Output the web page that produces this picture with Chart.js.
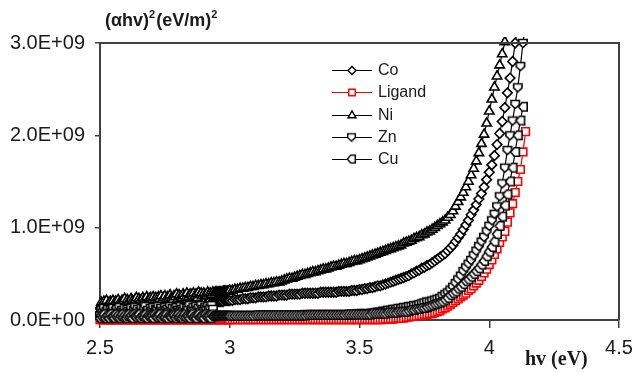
<!DOCTYPE html>
<html>
<head>
<meta charset="utf-8">
<script src="https://cdn.jsdelivr.net/npm/chart.js@4.4.1/dist/chart.umd.min.js"></script>
<style>
html,body{margin:0;padding:0;background:#fff;}
#wrap{width:635px;height:372px;position:relative;}
</style>
</head>
<body>
<div id="wrap"><canvas id="c" width="635" height="372"></canvas></div>
<script>
// ---- data (y values in units of 1E+09 (eV/m)^2) ----
const energies = [
2.500,2.505,2.510,2.515,2.520,2.525,2.530,2.535,2.540,2.545,
2.550,2.555,2.560,2.565,2.570,2.575,2.580,2.585,2.590,2.595,
2.600,2.605,2.610,2.615,2.620,2.625,2.630,2.635,2.640,2.645,
2.650,2.655,2.660,2.665,2.670,2.675,2.680,2.685,2.690,2.695,
2.700,2.705,2.710,2.715,2.720,2.725,2.730,2.735,2.740,2.745,
2.750,2.755,2.760,2.765,2.770,2.775,2.780,2.785,2.790,2.795,
2.800,2.805,2.810,2.815,2.820,2.825,2.830,2.835,2.840,2.845,
2.850,2.855,2.860,2.865,2.870,2.875,2.880,2.885,2.890,2.895,
2.900,2.905,2.910,2.915,2.920,2.925,2.930,2.935,2.940,2.945,
2.950,2.955,2.960,2.965,2.970,2.975,2.980,2.985,2.990,2.995,
3.00,3.01,3.02,3.03,3.04,3.05,3.06,3.07,3.08,3.09,
3.10,3.11,3.12,3.13,3.14,3.15,3.16,3.17,3.18,3.19,
3.20,3.21,3.22,3.23,3.24,3.25,3.26,3.27,3.28,3.29,
3.30,3.31,3.32,3.33,3.34,3.35,3.36,3.37,3.38,3.39,
3.40,3.41,3.42,3.43,3.44,3.45,3.46,3.47,3.48,3.49,
3.50,3.51,3.52,3.53,3.54,3.55,3.56,3.57,3.58,3.59,
3.60,3.61,3.62,3.63,3.64,3.65,3.66,3.67,3.68,3.69,
3.70,3.71,3.72,3.73,3.74,3.75,3.76,3.77,3.78,3.79,
3.80,3.81,3.82,3.83,3.84,3.85,3.86,3.87,3.88,3.89,
3.90,3.91,3.92,3.93,3.94,3.95,3.96,3.97,3.98,3.99,
4.00,4.01,4.02,4.03,4.04,4.05,4.06,4.07,4.08,4.09,
4.10,4.11,4.12,4.13,4.14,4.15];

const co = [
.08,.13,.10,.07,.12,.14,.09,.11,.13,.08,
.12,.10,.14,.09,.13,.11,.08,.14,.12,.10,
.15,.11,.09,.13,.15,.10,.12,.14,.11,.16,
.10,.13,.15,.12,.09,.16,.13,.11,.15,.12,
.17,.13,.10,.16,.14,.12,.17,.11,.15,.13,
.16,.12,.18,.14,.11,.17,.15,.13,.18,.14,
.12,.17,.15,.19,.13,.16,.18,.14,.17,.15,
.19,.13,.17,.16,.20,.14,.18,.16,.19,.17,
.15,.20,.17,.19,.16,.21,.18,.20,.19,.20,
.20,.20,.20,.20,.20,.20,.21,.21,.21,.21,
.21,.21,.22,.22,.22,.23,.23,.23,.24,.24,
.24,.25,.25,.25,.25,.26,.26,.26,.26,.27,
.27,.27,.27,.28,.28,.28,.28,.28,.29,.29,
.29,.29,.29,.29,.29,.30,.30,.30,.30,.30,
.30,.30,.31,.31,.31,.31,.31,.32,.32,.32,
.33,.33,.34,.34,.35,.35,.36,.37,.37,.38,
.39,.40,.41,.42,.43,.44,.45,.46,.47,.48,
.50,.51,.53,.54,.56,.57,.59,.60,.62,.64,
.66,.68,.70,.72,.75,.78,.81,.85,.89,.93,
.98,1.03,1.08,1.14,1.19,1.25,1.31,1.37,1.44,1.52,
1.60,1.68,1.78,1.90,2.02,2.15,2.30,2.46,2.62,2.80,
3.00,3.18,null,null,null,null];

const ligand = [
.005,.005,.005,.005,.005,.005,.005,.005,.005,.005,
.005,.005,.005,.005,.005,.005,.005,.005,.005,.005,
.005,.005,.005,.005,.005,.005,.005,.005,.005,.005,
.005,.005,.005,.005,.005,.005,.005,.005,.005,.005,
.005,.005,.005,.005,.005,.005,.005,.005,.005,.005,
.005,.005,.005,.005,.005,.005,.005,.005,.005,.005,
.005,.005,.005,.005,.005,.005,.005,.005,.005,.005,
.005,.005,.005,.005,.005,.005,.005,.005,.005,.005,
.005,.005,.005,.005,.005,.005,.005,.005,.005,.005,
.005,.005,.005,.005,.005,.005,.005,.005,.005,.005,
.005,.005,.005,.005,.005,.005,.005,.005,.005,.005,
.005,.005,.005,.005,.005,.005,.005,.005,.005,.005,
.005,.005,.005,.005,.005,.005,.005,.005,.005,.005,
.005,.005,.005,.005,.005,.005,.005,.005,.005,.005,
.005,.005,.005,.005,.005,.005,.005,.005,.005,.005,
.005,.005,.005,.005,.005,.005,.005,.005,.005,.005,
.01,.01,.01,.01,.02,.02,.02,.02,.03,.03,
.04,.04,.04,.05,.05,.06,.06,.07,.07,.08,
.09,.10,.12,.13,.15,.17,.19,.21,.23,.25,
.27,.29,.32,.34,.37,.40,.43,.47,.51,.55,
.60,.65,.71,.77,.84,.90,.96,1.06,1.16,1.26,
1.38,1.50,1.63,1.82,2.04,null];

const ni = [
.15,.19,.16,.20,.17,.21,.16,.19,.20,.17,
.21,.18,.20,.17,.22,.19,.18,.21,.20,.23,
.19,.22,.20,.18,.23,.21,.19,.22,.24,.20,
.23,.21,.19,.24,.22,.20,.25,.21,.23,.24,
.21,.25,.22,.24,.20,.25,.23,.26,.22,.24,
.26,.22,.25,.23,.27,.24,.22,.26,.25,.28,
.23,.27,.25,.24,.28,.26,.24,.29,.25,.27,
.28,.25,.29,.26,.28,.24,.30,.27,.29,.26,
.29,.27,.26,.30,.28,.29,.27,.30,.29,.30,
.30,.30,.30,.30,.30,.31,.31,.31,.31,.31,
.32,.32,.33,.33,.34,.34,.35,.35,.36,.36,
.37,.37,.38,.38,.39,.39,.40,.40,.41,.41,
.42,.43,.44,.45,.45,.46,.47,.48,.49,.49,
.50,.51,.52,.52,.53,.54,.55,.55,.56,.57,
.58,.58,.59,.60,.61,.61,.62,.63,.64,.64,
.65,.66,.67,.68,.69,.70,.71,.72,.73,.74,
.75,.76,.77,.78,.79,.80,.81,.83,.84,.85,
.86,.88,.89,.90,.92,.93,.95,.96,.98,1.00,
1.02,1.04,1.06,1.08,1.11,1.14,1.18,1.23,1.28,1.33,
1.38,1.44,1.50,1.57,1.64,1.72,1.81,1.91,2.01,2.13,
2.26,2.39,2.52,2.64,2.76,2.88,3.01,3.15,null,null,
null,null,null,null,null,null];

const zn = [
.05,.11,.08,.13,.06,.10,.12,.07,.11,.09,
.13,.06,.10,.12,.08,.14,.07,.11,.09,.13,
.06,.12,.10,.08,.13,.07,.11,.14,.09,.12,
.07,.10,.13,.08,.12,.15,.09,.11,.07,.13,
.10,.14,.08,.12,.11,.15,.09,.13,.10,.08,
.14,.11,.12,.09,.15,.10,.13,.08,.12,.14,
.11,.09,.15,.12,.10,.14,.08,.13,.11,.16,
.09,.12,.14,.10,.15,.11,.13,.09,.16,.12,
.10,.14,.12,.15,.11,.13,.16,.12,.05,.05,
.05,.05,.05,.05,.05,.05,.05,.05,.05,.05,
.05,.05,.05,.05,.05,.05,.05,.05,.05,.05,
.05,.05,.05,.05,.05,.05,.05,.05,.05,.05,
.05,.05,.05,.05,.05,.05,.05,.05,.05,.06,
.06,.06,.06,.06,.06,.06,.06,.06,.06,.06,
.06,.06,.06,.06,.06,.06,.06,.06,.06,.07,
.07,.07,.07,.07,.07,.08,.08,.09,.09,.10,
.10,.11,.11,.12,.12,.13,.13,.14,.14,.15,
.15,.16,.16,.17,.18,.19,.20,.20,.21,.22,
.23,.24,.26,.28,.30,.33,.36,.40,.44,.48,
.53,.57,.61,.65,.70,.75,.80,.85,.90,.96,
1.02,1.08,1.15,1.23,1.34,1.48,1.65,1.84,2.00,2.16,
2.34,2.52,2.75,3.00,3.20,null];

const cu = [
.02,.05,.03,.06,.02,.04,.05,.02,.06,.03,
.04,.02,.06,.03,.05,.02,.04,.06,.03,.05,
.02,.04,.06,.03,.05,.02,.06,.04,.03,.05,
.06,.02,.04,.05,.03,.06,.02,.05,.04,.03,
.05,.02,.06,.04,.03,.05,.06,.02,.04,.05,
.03,.06,.02,.05,.04,.03,.06,.05,.02,.04,
.06,.03,.05,.02,.04,.06,.03,.05,.04,.02,
.05,.06,.03,.04,.02,.05,.06,.03,.04,.05,
.02,.06,.04,.03,.05,.02,.06,.04,.045,.045,
.045,.045,.045,.045,.045,.045,.045,.045,.045,.045,
.045,.045,.045,.045,.045,.045,.045,.045,.045,.045,
.05,.05,.05,.05,.05,.05,.05,.05,.05,.05,
.05,.05,.05,.05,.05,.05,.05,.05,.05,.05,
.055,.055,.055,.055,.055,.055,.055,.055,.055,.055,
.055,.055,.055,.055,.055,.06,.06,.06,.06,.06,
.06,.06,.06,.06,.06,.07,.07,.07,.07,.07,
.07,.08,.08,.08,.08,.09,.09,.09,.09,.10,
.11,.11,.12,.12,.13,.13,.14,.15,.16,.17,
.18,.19,.20,.22,.24,.27,.29,.31,.34,.36,
.39,.42,.44,.47,.50,.53,.56,.60,.64,.69,
.74,.79,.85,.93,1.02,1.12,1.24,1.36,1.50,1.65,
1.82,2.00,2.16,2.31,null,null];

const xTickLabels = ['2.5','3','3.5','4','4.5'];
const yTickLabels = ['0.0E+00','1.0E+09','2.0E+09','3.0E+09'];
const seriesNames = ['Co','Ligand','Ni','Zn','Cu'];

// ---- custom marker shapes ----
function makeMarker(pts){
  const c = document.createElement('canvas');
  c.width = 12; c.height = 12;
  const g = c.getContext('2d');
  g.translate(6,6);
  g.beginPath();
  pts.forEach((p,i)=> i ? g.lineTo(p[0],p[1]) : g.moveTo(p[0],p[1]));
  g.closePath();
  g.fillStyle = '#fff'; g.fill();
  g.strokeStyle = '#000'; g.lineWidth = 1.6; g.stroke();
  return c;
}
const znMarker = makeMarker([[-4.2,-3.5],[4.2,-3.5],[4.2,0.7],[0,4.5],[-4.2,0.7]]);
const cuMarker = makeMarker([[-4.5,0],[-1,-4.2],[4.2,-4.2],[4.2,4.2],[-1,4.2]]);

function pts(arr){
  return energies.map((x,i)=>({x:x, y:arr[i]})).filter(p=>p.y!==null);
}

const clip = {left:5, top:6, right:5, bottom:5};
const black = '#000';
const datasets = [
  {label:'Co', data:pts(co), borderColor:black, pointStyle:'rectRot', pointRadius:4.8,
   pointBackgroundColor:'#fff', pointBorderColor:black, order:5},
  {label:'Ligand', data:pts(ligand), borderColor:'#ff0000', pointStyle:'rect', pointRadius:5.4,
   pointBackgroundColor:'#fff', pointBorderColor:'#ff0000', order:4},
  {label:'Ni', data:pts(ni), borderColor:black, pointStyle:'triangle', pointRadius:5.4,
   pointBackgroundColor:'#fff', pointBorderColor:black, order:3},
  {label:'Zn', data:pts(zn), borderColor:black, pointStyle:znMarker, pointRadius:4,
   pointBackgroundColor:'#fff', pointBorderColor:black, order:2},
  {label:'Cu', data:pts(cu), borderColor:black, pointStyle:cuMarker, pointRadius:4,
   pointBackgroundColor:'#fff', pointBorderColor:black, order:1}
].map(d=>Object.assign({borderWidth:1.2, pointBorderWidth:1.6, tension:0, fill:false, clip:clip, pointHoverRadius:4}, d));

const frame = {
  id:'frame',
  afterDraw(chart){
    const {ctx, chartArea:a} = chart;
    ctx.save();
    ctx.strokeStyle = '#404040'; ctx.lineWidth = 2;
    ctx.beginPath();
    ctx.moveTo(a.left, a.top); ctx.lineTo(a.right, a.top); ctx.lineTo(a.right, a.bottom);
    ctx.stroke();

    // legend
    const rowsY = [70, 92, 115, 137, 159];
    ctx.font = '16px "Liberation Sans", Arial, sans-serif';
    ctx.textBaseline = 'middle';
    ctx.textAlign = 'left';
    seriesNames.forEach((name, i)=>{
      const ds = chart.data.datasets[i];
      const y = rowsY[i];
      ctx.strokeStyle = ds.borderColor; ctx.lineWidth = 1.2;
      ctx.beginPath(); ctx.moveTo(332, y+0.5); ctx.lineTo(372, y+0.5); ctx.stroke();
      ctx.fillStyle = '#fff'; ctx.strokeStyle = ds.pointBorderColor; ctx.lineWidth = 1.4;
      if (typeof ds.pointStyle === 'string') {
        Chart.helpers.drawPoint(ctx, {pointStyle:ds.pointStyle, radius:ds.pointRadius*0.85, rotation:0, borderWidth:1.4}, 352, y+0.5);
      } else {
        ctx.drawImage(ds.pointStyle, 352-6, y-5.5, 11, 11);
      }
      ctx.fillStyle = '#1a1a1a';
      ctx.fillText(name, 378, y+1);
    });

    // axis titles
    ctx.fillStyle = '#1a1a1a';
    ctx.textBaseline = 'alphabetic';
    let x = 105;
    const main = 'bold 18px "Liberation Sans", Arial, sans-serif';
    const sup = 'bold 11px "Liberation Sans", Arial, sans-serif';
    const parts = [['(\u03b1hv)',main,0],['2',sup,-8],['(eV/m)',main,0],['2',sup,-8]];
    parts.forEach(p=>{
      ctx.font = p[1];
      ctx.fillText(p[0], x, 26 + p[2]);
      x += ctx.measureText(p[0]).width + (p[1]===sup ? 1 : 0);
    });
    ctx.font = 'bold 20px "Liberation Serif", "Times New Roman", serif';
    ctx.fillText('hv (eV)', 525, 365);
    ctx.restore();
  }
};

const tickFont = {family:'"Liberation Sans", Arial, sans-serif', size:20};
new Chart(document.getElementById('c'), {
  type:'line',
  data:{datasets:datasets},
  options:{
    responsive:false, animation:false, devicePixelRatio:1,
    layout:{padding:{top:43, right:16, left:0, bottom:0}},
    plugins:{legend:{display:false}, tooltip:{enabled:false}},
    events:[],
    scales:{
      x:{type:'linear', min:2.5, max:4.5,
         ticks:{stepSize:0.5, autoSkip:false, maxRotation:0, padding:8, color:'#1a1a1a', font:tickFont,
                callback:(v,i)=>xTickLabels[i]},
         grid:{drawOnChartArea:false, tickLength:8, color:'#404040', lineWidth:1.5},
         border:{display:true, color:'#404040', width:2},
         afterFit(s){ s.height = 52; s.paddingLeft = 0; s.paddingRight = 0; }},
      y:{type:'linear', min:0, max:3,
         ticks:{stepSize:1, padding:10, color:'#1a1a1a', font:tickFont,
                callback:(v,i)=>yTickLabels[i]},
         grid:{drawOnChartArea:false, tickLength:5, color:'#404040', lineWidth:1.5},
         border:{display:true, color:'#404040', width:2},
         afterFit(s){ s.width = 100; s.paddingTop = 0; s.paddingBottom = 0; }}
    }
  },
  plugins:[frame]
});
</script>
</body>
</html>
